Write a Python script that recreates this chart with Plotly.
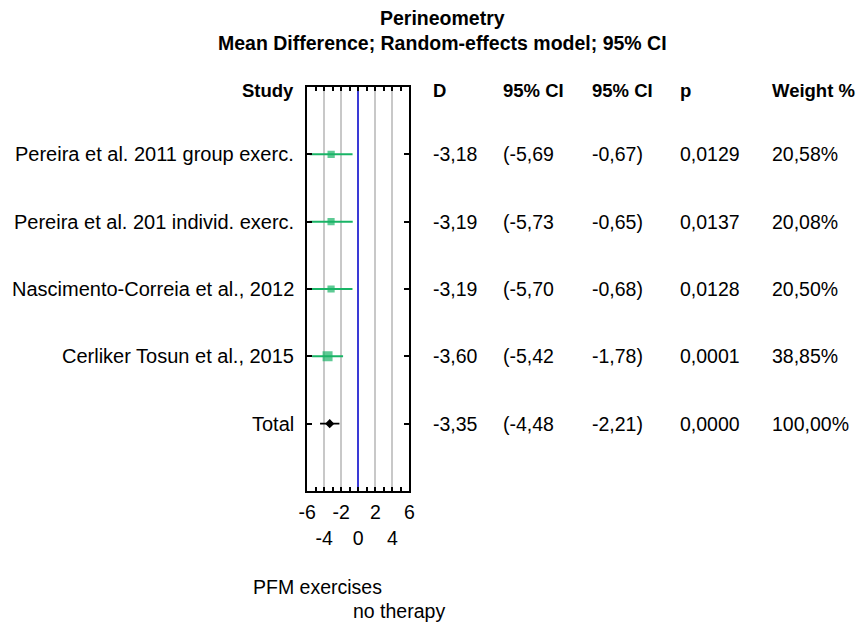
import plotly.graph_objects as go
import math

W, H = 866, 623

studies = ["Pereira et al. 2011 group exerc.",
           "Pereira et al. 201 individ. exerc.",
           "Nascimento-Correia et al., 2012",
           "Cerliker Tosun et al., 2015",
           "Total"]
d_vals = [-3.18, -3.19, -3.19, -3.60, -3.35]
ci_lo = [-5.69, -5.73, -5.70, -5.42, -4.48]
ci_hi = [-0.67, -0.65, -0.68, -1.78, -2.21]
p_vals = ["0,0129", "0,0137", "0,0128", "0,0001", "0,0000"]
weights = [20.58, 20.08, 20.50, 38.85, 100.00]
rows = [1, 2, 3, 4, 5]

x_ticks = [-6, -4, -2, 0, 2, 4, 6]
x_ticktext = ["-6", "<br>-4", "-2", "<br>0", "2", "<br>4", "6"]

headers = ["D", "95% CI", "95% CI", "p", "Weight %"]
title_lines = ["Perineometry", "Mean Difference; Random-effects model; 95% CI"]

FONT = "Liberation Sans, Arial, Helvetica, sans-serif"
FS = 19.5
GREEN = "#19b466"

def fmt(v):
    return f"{v:.2f}".replace(".", ",")

fig = go.Figure()

n = len(studies) - 1
fig.add_trace(go.Scatter(
    x=d_vals[:n], y=rows[:n], mode="markers",
    marker=dict(symbol="square", color=GREEN,
                size=[1.6 * math.sqrt(w) for w in weights[:n]],
                line=dict(width=0)),
    error_x=dict(type="data", symmetric=False,
                 array=[h - d for h, d in zip(ci_hi[:n], d_vals[:n])],
                 arrayminus=[d - l for d, l in zip(d_vals[:n], ci_lo[:n])],
                 color=GREEN, thickness=2, width=0),
    showlegend=False, hoverinfo="skip"))
fig.add_trace(go.Scatter(
    x=d_vals[n:], y=rows[n:], mode="markers",
    marker=dict(symbol="diamond", color="black", size=7),
    error_x=dict(type="data", symmetric=False,
                 array=[ci_hi[n] - d_vals[n]],
                 arrayminus=[d_vals[n] - ci_lo[n]],
                 color="black", thickness=1.8, width=0),
    showlegend=False, hoverinfo="skip"))

x0, x1 = 303 / W, 407 / W
y_top, y_bot = 1 - 87 / H, 1 - 491 / H

fig.update_layout(
    width=W, height=H,
    margin=dict(l=0, r=0, t=0, b=0),
    paper_bgcolor="white", plot_bgcolor="white",
    font=dict(family=FONT, size=FS, color="black"),
    xaxis=dict(domain=[x0, x1], range=[-6, 6], tickvals=x_ticks, ticktext=x_ticktext,
               tickangle=0,
               showgrid=True, gridcolor="#c8c8c8", gridwidth=1.5,
               zeroline=True, zerolinecolor="#3a3ad6", zerolinewidth=2,
               showline=True, linecolor="black", linewidth=2, mirror="ticks",
               ticks="inside", ticklen=4, tickwidth=1.5, tickcolor="black",
               minor=dict(dtick=1, ticks="inside", ticklen=4, tickwidth=1.5,
                          tickcolor="black", showgrid=False),
               tickfont=dict(family=FONT, size=FS, color="black"),
               ticklabelstandoff=3, fixedrange=True),
    yaxis=dict(domain=[y_bot, y_top], range=[6, 0], tickvals=rows, showticklabels=False,
               showgrid=False, zeroline=False,
               showline=True, linecolor="black", linewidth=2, mirror="ticks",
               ticks="inside", ticklen=5, tickwidth=1.5, tickcolor="black",
               fixedrange=True),
)

ann = []
def add(text, x, y, xanchor="left", yref="y", bold=False, size=FS):
    ann.append(dict(text=f"<b>{text}</b>" if bold else text, x=x, y=y, xref="paper", yref=yref,
                    xanchor=xanchor, yanchor="middle", showarrow=False,
                    font=dict(family=FONT, size=size, color="black")))

add(title_lines[0], 441 / W, 1 - 18 / H, xanchor="center", yref="paper", bold=True)
add(title_lines[1], 441 / W, 1 - 43 / H, xanchor="center", yref="paper", bold=True)

col_x = [429 / W, 500 / W, 591 / W, 680 / W, 773 / W]
add("Study", 292 / W, 0.05, xanchor="right", bold=True, size=18.5)
for hx, ht in zip(col_x, headers):
    add(ht, hx, 0.05, bold=True, size=18.5)

for i, name in enumerate(studies):
    r = rows[i]
    add(name, 292 / W, r, xanchor="right", size=20)
    add(fmt(d_vals[i]), col_x[0], r)
    add("(" + fmt(ci_lo[i]), col_x[1], r)
    add(fmt(ci_hi[i]) + ")", col_x[2], r)
    add(p_vals[i], col_x[3], r)
    add(fmt(weights[i]) + "%", col_x[4], r)

add("PFM exercises", 246 / W, 1 - 587 / H, yref="paper")
add("no therapy", 348 / W, 1 - 611 / H, yref="paper")

fig.update_layout(annotations=ann)
fig.write_html("out.html", config={"displayModeBar": False},
               post_script="document.body.style.margin='0';document.body.style.overflow='hidden';")
